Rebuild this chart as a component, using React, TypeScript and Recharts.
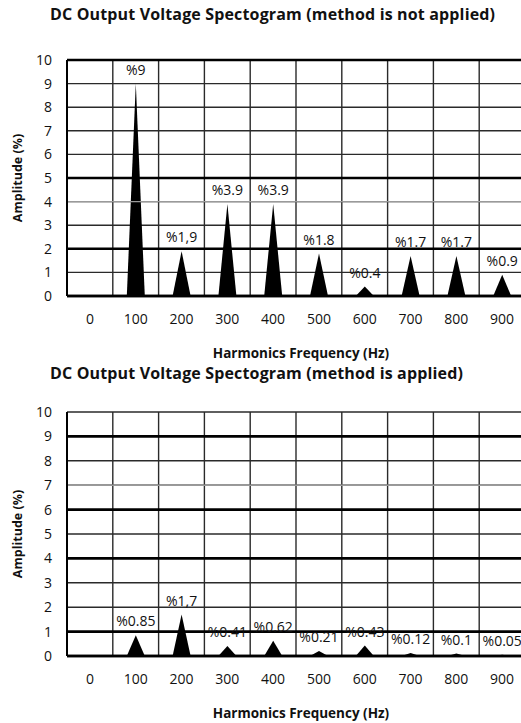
import React from "react";
import {
  BarChart,
  Bar,
  XAxis,
  YAxis,
  CartesianGrid,
  LabelList,
  Label,
  ReferenceLine,
} from "recharts";

// Harmonic frequencies (Hz) on the x axis
const frequencies = ["0", "100", "200", "300", "400", "500", "600", "700", "800", "900"];
const amplitudeTicks = [0, 1, 2, 3, 4, 5, 6, 7, 8, 9, 10];

// method is not applied
const amplitudeBefore = [null, 9, 1.9, 3.9, 3.9, 1.8, 0.4, 1.7, 1.7, 0.9];
const labelsBefore = ["", "%9", "%1,9", "%3.9", "%3.9", "%1.8", "%0.4", "%1.7", "%1.7", "%0.9"];

// method is applied
const amplitudeAfter = [null, 0.85, 1.7, 0.41, 0.62, 0.21, 0.43, 0.12, 0.1, 0.05];
const labelsAfter = ["", "%0.85", "%1,7", "%0.41", "%0.62", "%0.21", "%0.43", "%0.12", "%0.1", "%0.05"];

const FONT = "'Open Sans', 'DejaVu Sans', sans-serif";
const INK = "#111";

// draws each bar as a narrow spike (triangle) sitting on the baseline
const Spike = (props: any) => {
  const { x, y, width, height, value } = props;
  if (value == null || !height) return null;
  const d = `M${x},${y + height} L${x + width / 2},${y} L${x + width},${y + height} Z`;
  return <path d={d} fill="#000" />;
};

type SpectrumProps = {
  title: string;
  values: (number | null)[];
  labels: string[];
  top: number;
  titleTop: number;
  plotTop: number;
  plotHeight: number;
  heavy: number[]; // grid rules printed darker
  faint: number[]; // grid rules printed lighter
};

const Spectrum: React.FC<SpectrumProps> = ({
  title,
  values,
  labels,
  top,
  titleTop,
  plotTop,
  plotHeight,
  heavy,
  faint,
}) => {
  const data = frequencies.map((f, i) => ({ freq: f, amplitude: values[i], label: labels[i] }));
  const axisHeight = 66;
  return (
    <div style={{ position: "absolute", left: 0, top, width: 530 }}>
      <div
        style={{
          position: "absolute",
          left: 50,
          top: titleTop,
          fontFamily: FONT,
          fontWeight: 700,
          fontSize: 16,
          letterSpacing: 0.15,
          lineHeight: "18px",
          color: INK,
          whiteSpace: "nowrap",
        }}
      >
        {title}
      </div>
      <BarChart
        width={530}
        height={plotTop + plotHeight + axisHeight}
        data={data}
        margin={{ top: plotTop, right: 5, bottom: 0, left: 0 }}
        style={{ fontFamily: FONT }}
      >
        <CartesianGrid
          stroke="#2a2a2a"
          strokeWidth={1.4}
          verticalCoordinatesGenerator={({ offset }: any) =>
            Array.from({ length: 11 }, (_, i) => offset.left + (i * offset.width) / 10)
          }
        />
        {faint.map((v) => (
          <ReferenceLine key={`f${v}`} y={v} stroke="#9a9a9a" strokeWidth={1.4} />
        ))}
        {heavy.map((v) => (
          <ReferenceLine key={`h${v}`} y={v} stroke="#000" strokeWidth={2.6} />
        ))}
        <XAxis
          dataKey="freq"
          height={axisHeight}
          interval={0}
          tickLine={false}
          axisLine={{ stroke: "#000", strokeWidth: 2.6 }}
          tickMargin={12}
          tick={{ fill: INK, fontSize: 14 }}
        >
          <Label
            value="Harmonics Frequency (Hz)"
            position="insideBottom"
            offset={4}
            dx={5}
            style={{ fontWeight: 700, fontSize: 13.5, fill: INK }}
          />
        </XAxis>
        <YAxis
          type="number"
          domain={[0, 10]}
          ticks={amplitudeTicks}
          interval={0}
          width={67}
          tickLine={false}
          axisLine={{ stroke: "#000", strokeWidth: 2 }}
          tickMargin={9}
          tick={{ fill: INK, fontSize: 14 }}
        >
          <Label
            value="Amplitude (%)"
            angle={-90}
            position="center"
            dx={-16}
            style={{ fontWeight: 700, fontSize: 12.5, fill: INK, textAnchor: "middle" }}
          />
        </YAxis>
        <Bar dataKey="amplitude" barSize={18} shape={Spike} isAnimationActive={false}>
          <LabelList dataKey="label" position="top" offset={9} fill={INK} fontSize={14} />
        </Bar>
      </BarChart>
    </div>
  );
};

export default function App() {
  return (
    <div
      style={{
        position: "absolute",
        left: 0,
        top: 0,
        width: 521,
        height: 723,
        overflow: "hidden",
        background: "#fff",
      }}
    >
      <Spectrum
        title="DC Output Voltage Spectogram (method is not applied)"
        values={amplitudeBefore}
        labels={labelsBefore}
        top={0}
        titleTop={5}
        plotTop={60}
        plotHeight={236}
        heavy={[0, 2, 5, 10]}
        faint={[4]}
      />
      <Spectrum
        title="DC Output Voltage Spectogram (method is applied)"
        values={amplitudeAfter}
        labels={labelsAfter}
        top={362}
        titleTop={2}
        plotTop={50}
        plotHeight={244}
        heavy={[0, 1, 4, 6, 9]}
        faint={[7]}
      />
    </div>
  );
}
